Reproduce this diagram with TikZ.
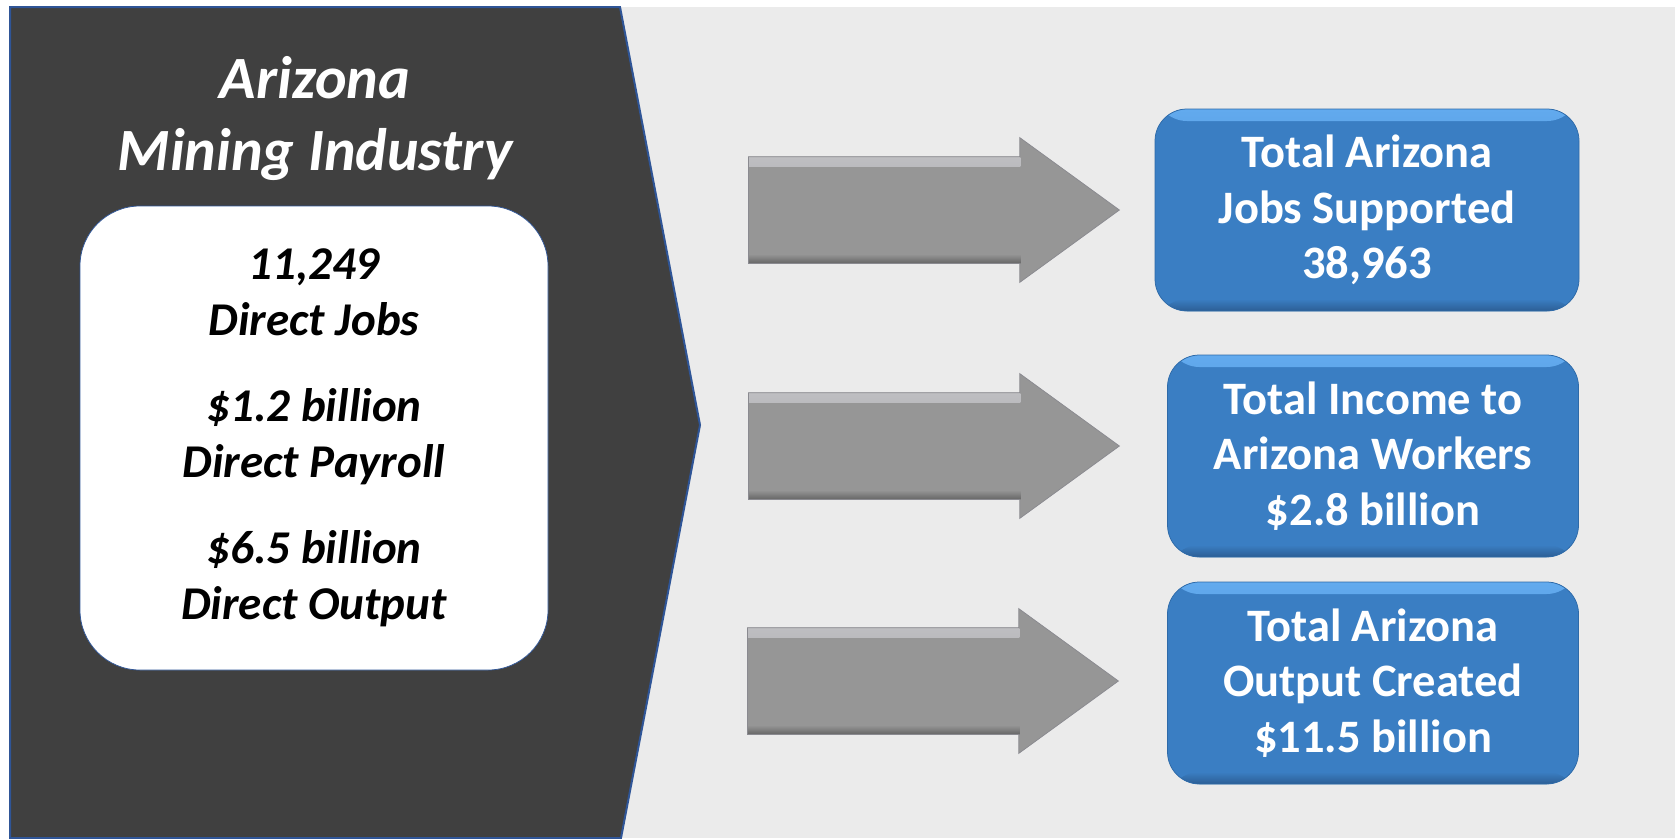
\documentclass[tikz,border=0pt]{standalone}
\usepackage{fontspec}
\setmainfont{Carlito}
\usepackage{xcolor}
\usetikzlibrary{math}
\usetikzlibrary{positioning}
\usetikzlibrary{shapes.arrows}

\definecolor{bggray}{HTML}{EBEBEB}
\definecolor{panelgray}{HTML}{404040}
\definecolor{edgeblue}{HTML}{2F5597}
\definecolor{arrowgray}{HTML}{969696}
\definecolor{arrowedge}{HTML}{8A8A90}
\definecolor{arrowlight}{HTML}{C4C4C8}
\definecolor{arrowdark}{HTML}{686868}
\definecolor{boxblue}{HTML}{3A7EC3}
\definecolor{boxedge}{HTML}{2E6AA8}
\definecolor{boxlight}{HTML}{62AAEE}
\definecolor{boxdark}{HTML}{2C5E94}

\begin{document}
\begin{tikzpicture}[line width=0.75pt, x=1pt, y=-1pt,
  bigarrow/.style={single arrow, fill=arrowgray, draw=arrowedge,
    minimum height=371pt, minimum width=144pt, inner xsep=0pt, inner ysep=53pt,
    single arrow head extend=19pt, single arrow tip angle=72,
    path picture={
      \shade[top color=arrowlight, bottom color=arrowgray]
        ([yshift=53pt]path picture bounding box.west)
        rectangle ([xshift=272pt, yshift=44pt]path picture bounding box.west);
      \shade[top color=arrowgray, bottom color=arrowdark]
        ([yshift=-44pt]path picture bounding box.west)
        rectangle ([xshift=272pt, yshift=-53pt]path picture bounding box.west);
    }},
  totalbox/.style={rectangle, rounded corners=32pt, fill=boxblue, draw=boxedge,
    minimum width=411pt, minimum height=202pt, align=center, text=white,
    font=\fontsize{46.5}{55.5}\selectfont\bfseries,
    path picture={
      \shade[top color=boxlight, bottom color=boxblue]
        (path picture bounding box.north west)
        rectangle ([yshift=-12pt]path picture bounding box.north east);
      \shade[top color=boxblue, bottom color=boxdark]
        ([yshift=12pt]path picture bounding box.south west)
        rectangle (path picture bounding box.south east);
    }}]

  \tikzmath{
    \panelleft  = 10;   % left edge of dark panel
    \paneltop   = 7;    % top edge of page area
    \panelright = 620;  % where the slanted edge starts
    \paneltip   = 700;  % tip of the chevron
    \tipy       = 425;  % height of the tip
    \arrowtail  = 748;  % tail of the grey arrows
  }

  \useasboundingbox (0,0) rectangle (1675,838);

  % light grey page
  \fill[bggray] (\panelleft,\paneltop) rectangle (1675,838);

  % dark chevron panel
  \filldraw[fill=panelgray, draw=edgeblue, line width=2pt]
    (\panelleft,\paneltop) -- (\panelright,\paneltop) -- (\paneltip,\tipy)
    -- (\panelright+1,838) -- (\panelleft,838) -- cycle;

  % title of the panel
  \node[text=white, align=center, font=\fontsize{60}{72}\selectfont\bfseries\itshape]
    (title) at (315,119) {Arizona\\Mining Industry};

  % white box with the direct figures
  \node[rectangle, rounded corners=60pt, fill=white, draw=edgeblue,
    minimum width=468pt, minimum height=464pt, align=center,
    font=\fontsize{47}{56}\selectfont\bfseries\itshape]
    (direct) at (314,438)
    {11,249\\Direct Jobs\\[30pt]\$1.2 billion\\Direct Payroll\\[30pt]\$6.5 billion\\Direct Output};

  % grey block arrows
  \node[bigarrow, anchor=tail] (arrowjobs)   at (\arrowtail,210) {};
  \node[bigarrow, anchor=tail] (arrowincome) at (\arrowtail,446) {};
  \node[bigarrow, anchor=tail] (arrowoutput) at (\arrowtail-1,681) {};

  % blue result boxes
  \node[totalbox, minimum width=424pt] (jobs) at (1367,210)
    {Total Arizona\\Jobs Supported\\38,963};
  \node[totalbox] (income) at (1373,456)
    {Total Income to\\Arizona Workers\\\$2.8 billion};
  \node[totalbox] (output) at (1373,683)
    {Total Arizona\\Output Created\\\$11.5 billion};

\end{tikzpicture}
\end{document}
